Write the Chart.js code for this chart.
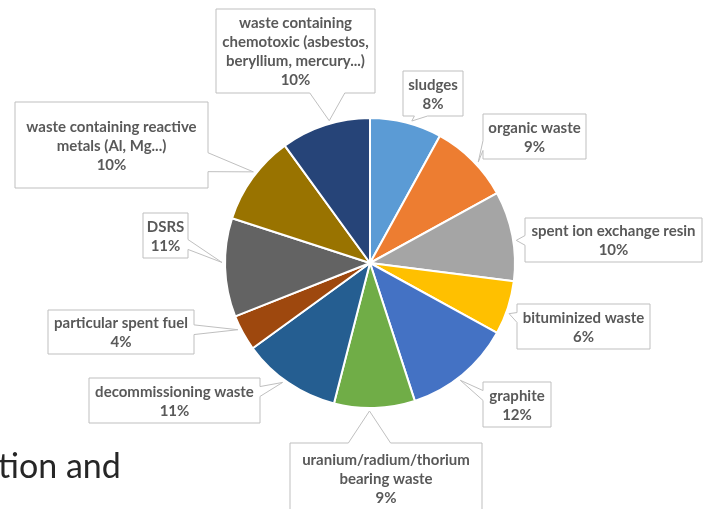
<!DOCTYPE html>
<html>
<head>
<meta charset="utf-8">
<script src="https://cdn.jsdelivr.net/npm/chart.js@4"></script>
<style>
  html, body { margin: 0; padding: 0; background: #fff; }
  #wrap { position: relative; width: 710px; height: 509px; overflow: hidden; }
  #grafico { position: absolute; left: 0; top: 0; }
  .texto-pie { position: absolute; left: -2px; top: 445px; font-family: Lato, "Open Sans", sans-serif; font-size: 34px; line-height: 40px; color: #262626; margin: 0; white-space: nowrap; }
</style>
</head>
<body>
<div id="wrap">
  <canvas id="grafico" width="710" height="509"></canvas>
  <p class="texto-pie">tion and</p>
</div>
<script>
// Datos del gráfico
const categorias = [
    ['sludges'],
    ['organic waste'],
    ['spent ion exchange resin'],
    ['bituminized waste'],
    ['graphite'],
    ['uranium/radium/thorium', 'bearing waste'],
    ['decommissioning waste'],
    ['particular spent fuel'],
    ['DSRS'],
    ['waste containing reactive', 'metals (Al, Mg...)'],
    ['waste containing', 'chemotoxic (asbestos,', 'beryllium, mercury...)']
];
const porcentajes = [8, 9, 10, 6, 12, 9, 11, 4, 11, 10, 10];
const colores = ['#5B9BD5', '#ED7D31', '#A5A5A5', '#FFC000', '#4472C4', '#70AD47',
                 '#255E91', '#9E480E', '#636363', '#997300', '#264478'];

// Posición de cada recuadro de etiqueta: [x, y, ancho, alto, lado de la flecha]
const recuadros = [
    [403, 71, 60, 45, 'bottom'],
    [483, 114, 103, 45, 'left'],
    [525, 218, 177, 44, 'left'],
    [517, 304, 133, 45, 'left'],
    [483, 382, 68, 45, 'left'],
    [290, 443, 192, 70, 'top'],
    [89, 378, 171, 45, 'right'],
    [48, 310, 146, 44, 'right'],
    [143, 213, 45, 45, 'right'],
    [15, 102, 193, 86, 'right'],
    [216, 9, 159, 84, 'bottom']
];

// Plugin para dibujar las etiquetas con flecha
const etiquetasPlugin = {
    id: 'etiquetas',
    afterDatasetsDraw(chart) {
        const ctx = chart.ctx;
        const arcos = chart.getDatasetMeta(0).data;
        ctx.save();
        arcos.forEach((arco, i) => {
            const [bx, by, bw, bh, lado] = recuadros[i];
            const medio = (arco.startAngle + arco.endAngle) / 2 + 0.035;
            const px = arco.x + Math.cos(medio) * (arco.outerRadius + 3);
            const py = arco.y + Math.sin(medio) * (arco.outerRadius + 3);

            // base de la flecha sobre el lado del recuadro
            const horiz = (lado === 'top' || lado === 'bottom');
            const largo = horiz ? bw : bh;
            const inicio = horiz ? bx : by;
            const semi = largo * 0.11;
            let c = horiz ? px : py;
            c = Math.min(Math.max(c, inicio + largo * 0.3), inicio + largo * 0.7);

            ctx.beginPath();
            ctx.moveTo(bx, by);
            if (lado === 'top') { ctx.lineTo(c - semi, by); ctx.lineTo(px, py); ctx.lineTo(c + semi, by); }
            ctx.lineTo(bx + bw, by);
            if (lado === 'right') { ctx.lineTo(bx + bw, c - semi); ctx.lineTo(px, py); ctx.lineTo(bx + bw, c + semi); }
            ctx.lineTo(bx + bw, by + bh);
            if (lado === 'bottom') { ctx.lineTo(c + semi, by + bh); ctx.lineTo(px, py); ctx.lineTo(c - semi, by + bh); }
            ctx.lineTo(bx, by + bh);
            if (lado === 'left') { ctx.lineTo(bx, c + semi); ctx.lineTo(px, py); ctx.lineTo(bx, c - semi); }
            ctx.closePath();
            ctx.fillStyle = '#ffffff';
            ctx.fill();
            ctx.strokeStyle = '#BFBFBF';
            ctx.lineWidth = 1;
            ctx.stroke();

            // texto
            const lineas = categorias[i].concat([porcentajes[i] + '%']);
            ctx.fillStyle = '#595959';
            ctx.font = 'bold 15px Lato, "Open Sans", sans-serif';
            ctx.textAlign = 'center';
            ctx.textBaseline = 'middle';
            const alto = 19;
            const y0 = by + bh / 2 - (lineas.length - 1) * alto / 2 + 1;
            lineas.forEach((t, k) => ctx.fillText(t, bx + bw / 2, y0 + k * alto));
        });
        ctx.restore();
    }
};

new Chart(document.getElementById('grafico').getContext('2d'), {
    type: 'pie',
    data: {
        labels: categorias.map(l => l.join(' ')),
        datasets: [{
            data: porcentajes,
            backgroundColor: colores,
            borderColor: '#ffffff',
            borderWidth: 2
        }]
    },
    options: {
        responsive: false,
        animation: false,
        layout: { padding: { left: 224, right: 194, top: 117, bottom: 100 } },
        plugins: {
            legend: { display: false },
            tooltip: { enabled: false }
        }
    },
    plugins: [etiquetasPlugin]
});
</script>
</body>
</html>
